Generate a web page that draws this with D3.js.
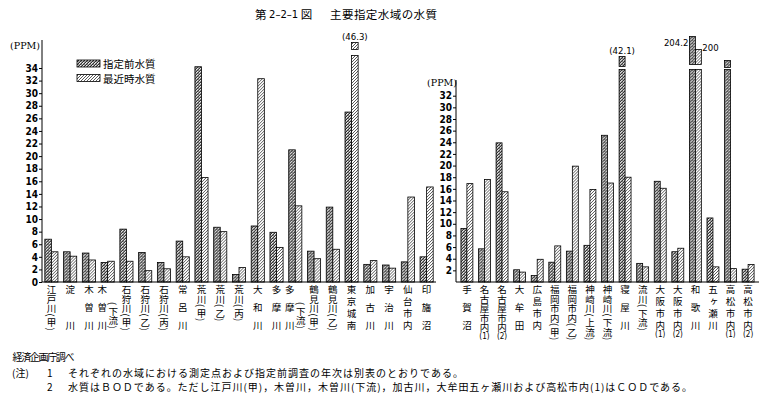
<!DOCTYPE html>
<html>
<head>
<meta charset="utf-8">
<script src="https://cdn.jsdelivr.net/npm/d3@7"></script>
<style>body{margin:0;background:#fff}</style>
</head>
<body>
<svg id="chart" width="767" height="397"></svg>
<script>
// data
const leftCategories = ["江戸川(甲)", "淀川", "木曽川", "木曽川(下流)", "石狩川(甲)", "石狩川(乙)", "石狩川(丙)", "常呂川",
  "荒川(甲)", "荒川(乙)", "荒川(丙)", "大和川", "多摩川", "多摩川(下流)", "鶴見川(甲)", "鶴見川(乙)", "東京城南",
  "加古川", "宇治川", "仙台市内", "印旛沼"];
const leftBefore = [6.8, 4.8, 4.6, 3.1, 8.4, 4.7, 3.1, 6.5, 34.2, 8.7, 1.2, 8.9, 7.9, 21.0, 4.9, 11.9, 27.0, 2.8, 2.7, 3.2, 4.0];
const leftRecent = [4.8, 4.1, 3.5, 3.3, 3.3, 1.8, 2.1, 4.0, 16.6, 8.0, 2.3, 32.3, 5.5, 12.1, 3.7, 5.2, 46.3, 3.4, 2.2, 13.5, 15.1];

const rightCategories = ["手賀沼", "名古屋市内(1)", "名古屋市内(2)", "大牟田", "広島市内", "福岡市内(甲)", "福岡市内(乙)",
  "神崎川(上流)", "神崎川(下流)", "寝屋川", "流川(下流)", "大阪市内(1)", "大阪市内(2)", "和歌川", "五ヶ瀬川",
  "高松市内(1)", "高松市内(2)"];
const rightBefore = [9.2, 5.7, 23.9, 2.1, 1.1, 3.4, 5.3, 6.3, 25.2, 42.1, 3.2, 17.3, 5.2, 204.2, 11.0, 38.0, 2.2];
const rightRecent = [16.9, 17.6, 15.5, 1.7, 3.9, 6.2, 19.9, 15.9, 17.0, 18.0, 2.6, 16.1, 5.8, 200, 2.6, 2.3, 3.0];

const leftTicks = d3.range(0, 35, 2);
const rightTicks = d3.range(2, 33, 2);
const seriesNames = ["指定前水質", "最近時水質"];
const titleParts = ["第 ", "2–2–1", " 図", "主要指定水域の水質"];
const sourceLine = "経済企画庁調べ";
const noteLines = ["それぞれの水域における測定点および指定前調査の年次は別表のとおりである。",
  "水質はＢＯＤである。ただし江戸川(甲)，木曽川，木曽川(下流)，加古川，大牟田五ヶ瀬川および高松市内(1)はＣＯＤである。"];

const svg = d3.select("#chart");
const cjk = '"Noto Sans CJK JP", "Noto Sans"';
const num = '"DejaVu Sans Condensed", "DejaVu Sans"';
const base = 282;

// fill patterns
const defs = svg.append("defs");
const pb = defs.append("pattern").attr("id", "pBefore").attr("patternUnits", "userSpaceOnUse")
  .attr("width", 3).attr("height", 3);
pb.append("rect").attr("width", 3).attr("height", 3).attr("fill", "#999");
pb.append("path").attr("d", "M0,0h1v1h-1z M2,1h1v1h-1z M1,2h1v1h-1z").attr("fill", "#2a2a2a");
pb.append("path").attr("d", "M1,0h1v1h-1z M2,2h1v1h-1z").attr("fill", "#eee");
const pr = defs.append("pattern").attr("id", "pRecent").attr("patternUnits", "userSpaceOnUse")
  .attr("width", 3).attr("height", 3);
pr.append("rect").attr("width", 3).attr("height", 3).attr("fill", "#fff");
pr.append("path").attr("d", "M-1,1L1,-1 M0,3L3,0 M2,4L4,2")
  .attr("stroke", "#222").attr("stroke-width", 0.75);
const fills = { before: "url(#pBefore)", recent: "url(#pRecent)" };

// broken bars: size of the top piece and where its value goes
const breakStyle = {
  "東京城南|recent": { h: 7, gap: 6, label: "above" },
  "寝屋川|before": { h: 10, gap: 3, label: "above" },
  "和歌川|before": { h: 28, gap: 5, label: "left" },
  "和歌川|recent": { h: 15, gap: 5, label: "right" },
  "高松市内(1)|before": { h: 7, gap: 2, label: null }
};

const fs = 9.5;   // label font size
const top0 = 285; // where vertical labels start
const minLen = 45;
const parAdv = 4.5;

// stack single upright characters; returns end y
function column(g, x, y, units, justify) {
  const natural = d3.sum(units, u => u.adv);
  let step = null;
  if (justify && units.length > 1 && natural < minLen && units.every(u => !u.p)) {
    step = (minLen - fs) / (units.length - 1);
  }
  let cur = y;
  units.forEach((u, i) => {
    const yy = step ? y + i * step : cur;
    g.append("text").attr("x", x).attr("y", yy)
      .attr("font-family", cjk).attr("font-size", fs)
      .style("writing-mode", "vertical-rl").text(u.t);
    cur += u.adv;
  });
  return step ? y + minLen : cur;
}

function drawLabel(g, label, cx, twoCol) {
  const m = label.match(/^(.*?)(?:\((.+)\))?$/);
  const main = Array.from(m[1]).map(t => ({ t, adv: fs }));
  const par = m[2];
  if (par && /^\d+$/.test(par)) {
    const end = column(g, cx, top0, main, true);
    g.append("text").attr("x", cx).attr("y", end + 4).attr("text-anchor", "middle")
      .attr("dominant-baseline", "central").attr("font-family", num).attr("font-size", 8)
      .text("(" + par + ")");
    return;
  }
  const pu = par ? [{ t: "(", adv: parAdv, p: true }]
    .concat(Array.from(par).map(t => ({ t, adv: fs })))
    .concat([{ t: ")", adv: parAdv, p: true }]) : [];
  if (par && twoCol && par.length > 1) {
    column(g, cx - 5.5, top0, main, true);
    column(g, cx + 5.5, top0 + 17, pu, false);
  } else {
    column(g, cx, top0, main.concat(pu), true);
  }
}

function drawPanel(p) {
  const rows = p.cats.map((c, i) => ({ cat: c, before: p.before[i], recent: p.recent[i] }));
  const x = d3.scaleBand().domain(p.cats).range([p.x0, p.x1]).paddingInner(p.pi).paddingOuter(p.po);
  const xs = d3.scaleBand().domain(["before", "recent"]).range([0, x.bandwidth()]);
  const y = p.y;
  const g = svg.append("g");

  const groups = g.selectAll("g.cat").data(rows).enter().append("g").attr("class", "cat")
    .attr("transform", d => `translate(${x(d.cat)},0)`);
  ["before", "recent"].forEach(key => {
    groups.each(function (d) {
      const v = d[key];
      const top = y(Math.min(v, p.cap));
      const gg = d3.select(this);
      gg.append("rect").attr("x", xs(key)).attr("y", top).attr("width", xs.bandwidth())
        .attr("height", base - top).attr("fill", fills[key]).attr("stroke", "#000").attr("stroke-width", 0.8);
      if (v > p.cap) {
        const st = breakStyle[d.cat + "|" + key];
        const bTop = top - st.gap - st.h;
        gg.append("rect").attr("x", xs(key)).attr("y", bTop).attr("width", xs.bandwidth())
          .attr("height", st.h).attr("fill", fills[key]).attr("stroke", "#000").attr("stroke-width", 0.8);
        if (st.label) {
          const t = gg.append("text").attr("font-family", num).attr("font-size", 9.5)
            .attr("dominant-baseline", "central");
          if (st.label === "above") {
            t.attr("x", xs(key) + xs.bandwidth() / 2).attr("y", bTop - 6).attr("text-anchor", "middle")
              .text("(" + v + ")");
          } else if (st.label === "left") {
            t.attr("x", xs(key) - 1).attr("y", bTop + 6).attr("text-anchor", "end").text(v);
          } else {
            t.attr("x", xs(key) + xs.bandwidth() + 1).attr("y", bTop - 2).attr("text-anchor", "start").text(v);
          }
        }
      }
    });
  });

  // axis
  const ax = g.append("g").attr("transform", `translate(${p.x0},0)`)
    .call(d3.axisLeft(y).tickValues(p.ticks).tickSize(3).tickPadding(1).tickFormat(d3.format("d")));
  ax.select(".domain").remove();
  ax.selectAll(".tick line").attr("stroke", "#000");
  ax.selectAll("text").attr("font-family", num).attr("font-size", 10).attr("font-weight", "bold").attr("fill", "#000");
  g.append("line").attr("x1", p.x0).attr("x2", p.x0).attr("y1", p.axisTop).attr("y2", base)
    .attr("stroke", "#000").attr("stroke-width", 1);
  g.append("line").attr("x1", p.x0).attr("x2", p.x1).attr("y1", base).attr("y2", base)
    .attr("stroke", "#000").attr("stroke-width", 1);
  g.append("text").attr("x", p.ppmX).attr("y", p.ppmY).attr("text-anchor", "end")
    .attr("dominant-baseline", "central").attr("font-family", '"DejaVu Serif"').attr("font-size", 9.5).text("(PPM)");

  rows.forEach(d => drawLabel(g, d.cat, x(d.cat) + x.bandwidth() / 2, p.twoCol));
}

drawPanel({
  cats: leftCategories, before: leftBefore, recent: leftRecent,
  x0: 42, x1: 436, pi: 0.3, po: 0.15,
  y: d3.scaleLinear().domain([0, 34]).range([base, 68]),
  cap: 36, ticks: leftTicks, axisTop: 40, ppmX: 40, ppmY: 45, twoCol: true
});
drawPanel({
  cats: rightCategories, before: rightBefore, recent: rightRecent,
  x0: 456, x1: 759, pi: 0.32, po: 0.28,
  y: d3.scaleLinear().domain([0, 32]).range([base, 95.7]),
  cap: 36.5, ticks: rightTicks, axisTop: 80, ppmX: 457, ppmY: 82, twoCol: false
});

// legend
["before", "recent"].forEach((k, i) => {
  svg.append("rect").attr("x", 77).attr("y", 60 + i * 14.5).attr("width", 23).attr("height", 7)
    .attr("fill", fills[k]).attr("stroke", "#000").attr("stroke-width", 0.8);
  svg.append("text").attr("x", 103).attr("y", 63.5 + i * 14.5).attr("dominant-baseline", "central")
    .attr("font-family", cjk).attr("font-size", 10.5).text(seriesNames[i]);
});

// title
const title = svg.append("text").attr("x", 255).attr("y", 14).attr("dominant-baseline", "central")
  .attr("font-family", cjk).attr("font-size", 11.5);
title.append("tspan").text(titleParts[0]);
title.append("tspan").attr("font-family", '"DejaVu Sans"').attr("font-size", 10).text(titleParts[1]);
title.append("tspan").text(titleParts[2]);
svg.append("text").attr("x", 330).attr("y", 14).attr("dominant-baseline", "central")
  .attr("font-family", cjk).attr("font-size", 11.5).attr("textLength", 107).text(titleParts[3]);

// source and notes
const foot = svg.append("g").attr("font-family", cjk).attr("font-size", 10).attr("dominant-baseline", "central");
foot.append("text").attr("x", 12.5).attr("y", 356).attr("textLength", 62).text(sourceLine);
foot.append("text").attr("x", 12).attr("y", 372).text("(注)");
noteLines.forEach((s, i) => {
  foot.append("text").attr("x", 47).attr("y", 372 + i * 14).text(i + 1);
  foot.append("text").attr("x", 68).attr("y", 372 + i * 14).attr("textLength", i === 0 ? 395 : 624).text(s);
});
</script>
</body>
</html>
